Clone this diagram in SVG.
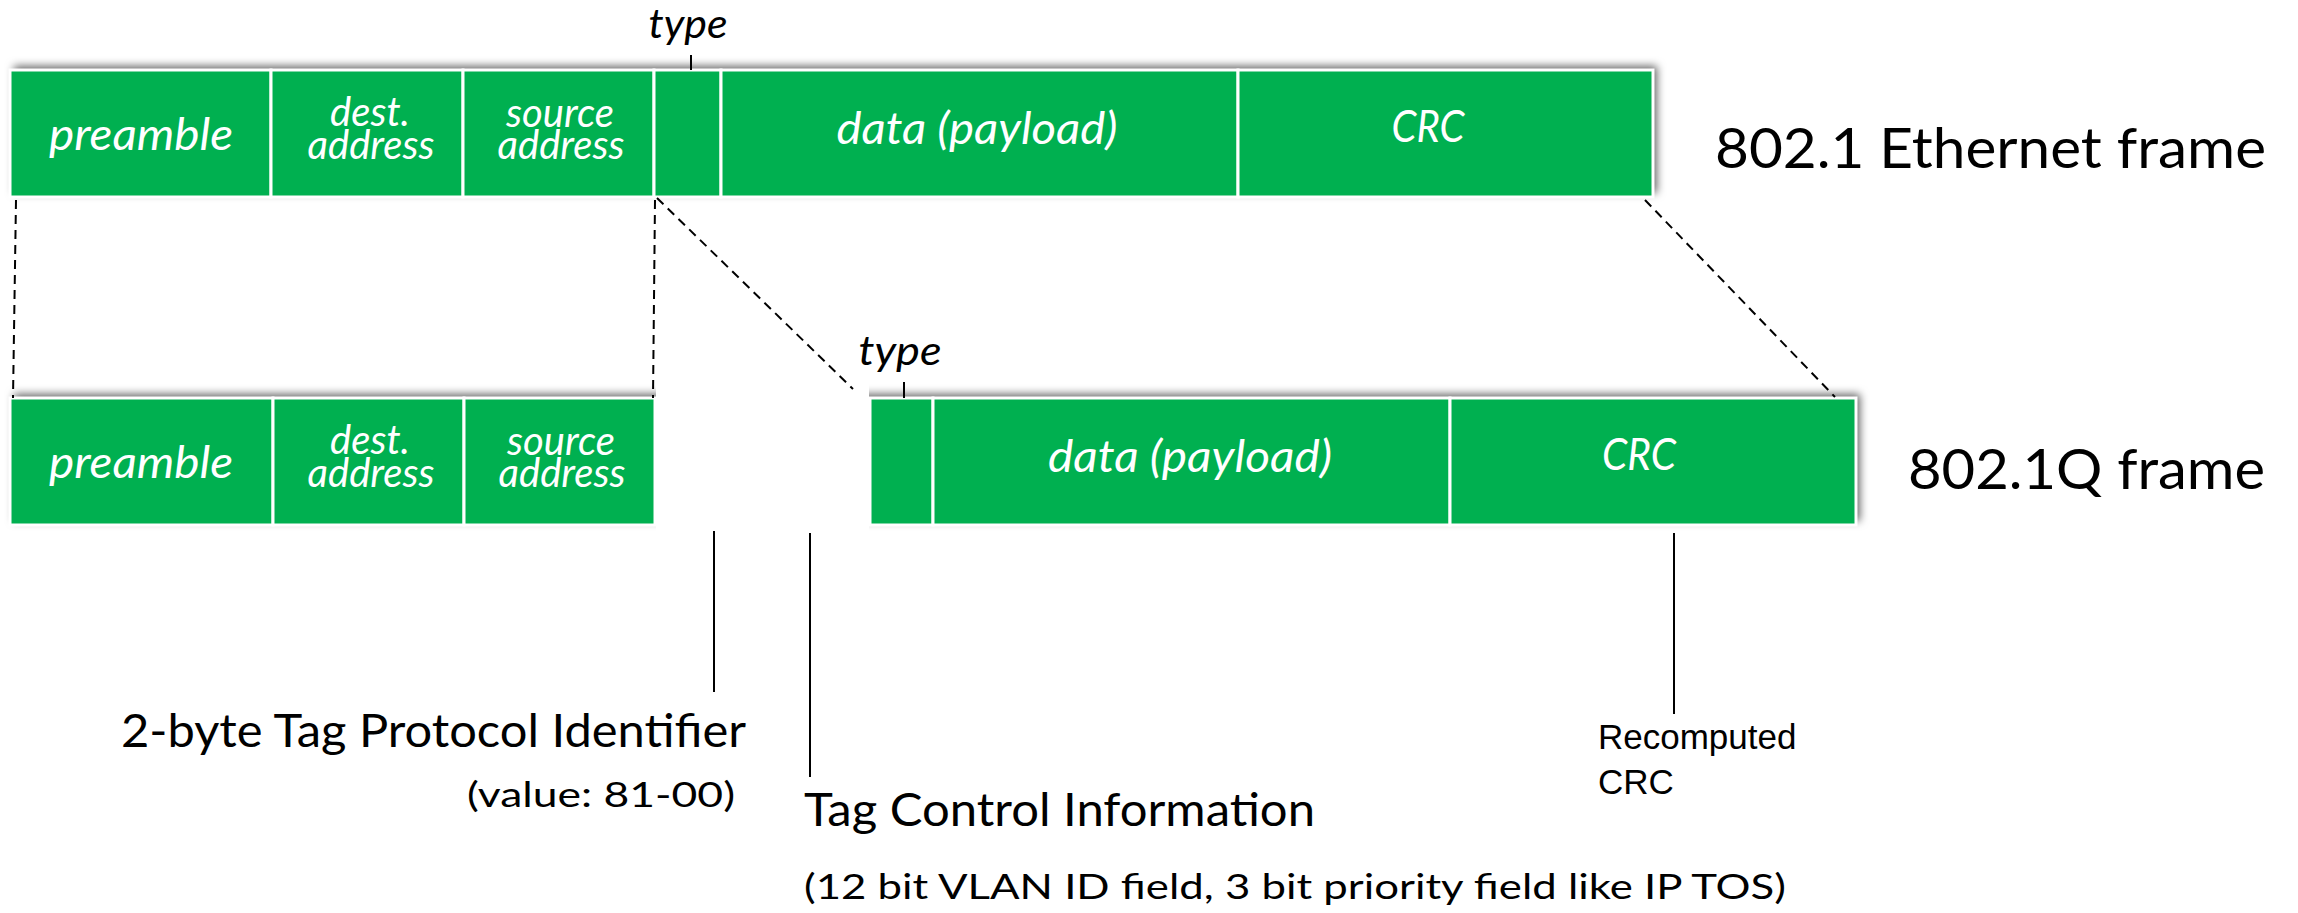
<svg xmlns="http://www.w3.org/2000/svg" width="2298" height="913" viewBox="0 0 2298 913">
  <defs>
    <filter id="shadow" x="-5%" y="-30%" width="110%" height="160%">
      <feDropShadow dx="4" dy="-4" stdDeviation="4" flood-color="#000" flood-opacity="0.6"/>
    </filter>
    <style>
      .frame { fill: #00B050; filter: url(#shadow); }
      .cell { fill: #00B050; stroke: #FFFFFF; stroke-width: 3; }
      .lbl { fill: #FFFFFF; font-family: Lato, "Open Sans", sans-serif; font-style: italic; text-anchor: middle; }
      .lbl-l { font-size: 45px; }
      .lbl-s { font-size: 40px; }
      .txt { fill: #000000; font-family: Lato, "Open Sans", sans-serif; }
      .big { font-size: 56px; }
      .mid { font-size: 46px; }
      .sml { font-size: 35px; }
      .type { font-size: 40px; font-style: italic; text-anchor: middle; }
      .arial { fill: #000000; font-family: "Liberation Sans", Arial, sans-serif; font-size: 35px; }
      .dash { stroke: #000000; stroke-width: 2; stroke-dasharray: 9 6; fill: none; }
      .solid { stroke: #000000; stroke-width: 2; fill: none; }
      .tick { stroke: #000000; stroke-width: 2; }
    </style>
  </defs>

  <!-- 802.1 Ethernet frame -->
  <g id="ethernet-frame">
    <rect class="frame" x="10" y="70" width="1643" height="127"/>
    <rect class="cell" x="10" y="70" width="261" height="127"/>
    <rect class="cell" x="271" y="70" width="192" height="127"/>
    <rect class="cell" x="463" y="70" width="191" height="127"/>
    <rect class="cell" x="654" y="70" width="67" height="127"/>
    <rect class="cell" x="721" y="70" width="517" height="127"/>
    <rect class="cell" x="1238" y="70" width="415" height="127"/>
    <text class="lbl lbl-l" x="141" y="150" textLength="184" lengthAdjust="spacingAndGlyphs">preamble</text>
    <text class="lbl lbl-s"><tspan x="370" y="126">dest.</tspan><tspan x="371" y="159">address</tspan></text>
    <text class="lbl lbl-s"><tspan x="560" y="127">source</tspan><tspan x="561" y="159">address</tspan></text>
    <text class="lbl lbl-l" x="977" y="144" textLength="281" lengthAdjust="spacingAndGlyphs">data (payload)</text>
    <text class="lbl lbl-l" x="1428" y="142" textLength="73" lengthAdjust="spacingAndGlyphs">CRC</text>
    <line class="tick" x1="691" y1="55" x2="691" y2="70"/>
    <text class="txt type" x="688" y="38" textLength="79" lengthAdjust="spacingAndGlyphs">type</text>
  </g>
  <text id="ethernet-title" class="txt big" x="1715" y="168" textLength="551" lengthAdjust="spacingAndGlyphs">802.1 Ethernet frame</text>

  <!-- 802.1Q frame -->
  <g id="q-frame">
    <rect class="frame" x="10" y="398" width="1846" height="127"/>
    <rect class="cell" x="10" y="398" width="263" height="127"/>
    <rect class="cell" x="273" y="398" width="191" height="127"/>
    <rect class="cell" x="464" y="398" width="191" height="127"/>
    <rect x="656" y="384" width="213" height="148" fill="#FFFFFF"/>
    <rect class="cell" x="870" y="398" width="63" height="127"/>
    <rect class="cell" x="933" y="398" width="517" height="127"/>
    <rect class="cell" x="1450" y="398" width="406" height="127"/>
    <text class="lbl lbl-l" x="141" y="478" textLength="184" lengthAdjust="spacingAndGlyphs">preamble</text>
    <text class="lbl lbl-s"><tspan x="370" y="454">dest.</tspan><tspan x="371" y="487">address</tspan></text>
    <text class="lbl lbl-s"><tspan x="561" y="455">source</tspan><tspan x="562" y="487">address</tspan></text>
    <text class="lbl lbl-l" x="1190" y="472" textLength="284" lengthAdjust="spacingAndGlyphs">data (payload)</text>
    <text class="lbl lbl-l" x="1639" y="470" textLength="74" lengthAdjust="spacingAndGlyphs">CRC</text>
    <line class="tick" x1="904" y1="382" x2="904" y2="398"/>
    <text class="txt type" x="900" y="365" textLength="83" lengthAdjust="spacingAndGlyphs">type</text>
  </g>
  <text id="q-title" class="txt big" x="1908" y="489" textLength="357" lengthAdjust="spacingAndGlyphs">802.1Q frame</text>

  <!-- connectors -->
  <g id="connectors">
    <line class="dash" x1="16" y1="200" x2="13" y2="398"/>
    <line class="dash" x1="655" y1="200" x2="653" y2="398"/>
    <line class="dash" x1="657" y1="198" x2="853" y2="389"/>
    <line class="dash" x1="1645" y1="200" x2="1835" y2="397"/>
    <line class="solid" x1="714" y1="531" x2="714" y2="692"/>
    <line class="solid" x1="810" y1="533" x2="810" y2="777"/>
    <line class="solid" x1="1674" y1="533" x2="1674" y2="714"/>
  </g>

  <!-- annotations -->
  <g id="tpid-label">
    <text class="txt mid" x="121" y="747" textLength="625" lengthAdjust="spacingAndGlyphs">2-byte Tag Protocol Identifier</text>
    <text class="txt sml" x="467" y="807" textLength="268" lengthAdjust="spacingAndGlyphs">(value: 81-00)</text>
  </g>
  <g id="tci-label">
    <text class="txt mid" x="804" y="826" textLength="511" lengthAdjust="spacingAndGlyphs">Tag Control Information</text>
    <text class="txt sml" x="804" y="899" textLength="982" lengthAdjust="spacingAndGlyphs">(12 bit VLAN ID field, 3 bit priority field like IP TOS)</text>
  </g>
  <g id="crc-label">
    <text class="arial"><tspan x="1598" y="749">Recomputed</tspan><tspan x="1598" y="794">CRC</tspan></text>
  </g>
</svg>
